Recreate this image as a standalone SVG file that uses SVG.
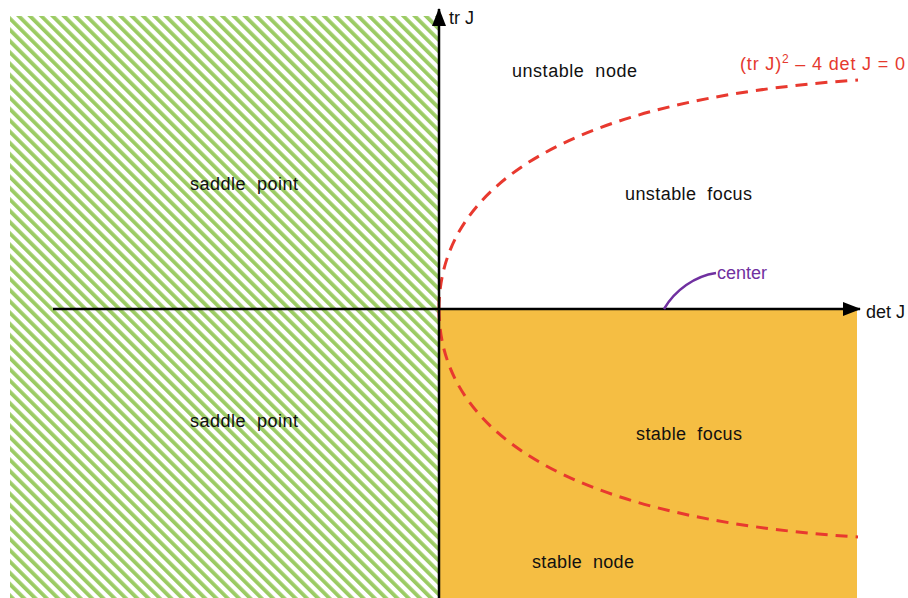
<svg xmlns="http://www.w3.org/2000/svg" width="908" height="598" viewBox="0 0 908 598">
<defs>
<pattern id="hatch" patternUnits="userSpaceOnUse" width="8" height="8" patternTransform="rotate(-45)">
<rect x="0" y="0" width="3.8" height="8" fill="#9BCB63"/>
</pattern>
<marker id="arr" viewBox="0 0 18 14" refX="17" refY="7" markerWidth="18" markerHeight="14" markerUnits="userSpaceOnUse" orient="auto">
<path d="M0,0 L18,7 L0,14 Z" fill="#000"/>
</marker>
<style>
.lbl{font-family:"Liberation Sans",Arial,sans-serif;font-size:18px;fill:#111}
.red{fill:#E5392E}
.pur{fill:#7030A0}
.dash{fill:none;stroke:#E8392F;stroke-width:3;stroke-dasharray:12 8}
.axis{stroke:#000;stroke-width:2.5;fill:none}
</style>
</defs>
<rect width="908" height="598" fill="#fff"/>
<g id="saddle-region">
<rect x="10" y="16" width="429" height="582" fill="url(#hatch)"/>
</g>
<g id="stable-region">
<rect x="439" y="309" width="418" height="289" fill="#F5BE43"/>
</g>
<g id="connectors">
<path class="dash" d="M439,309 C439,190 560,100 858,80"/>
<path class="dash" d="M439,309 C439,428 560,518 858,537"/>
<line class="axis" x1="439" y1="598" x2="439" y2="9" marker-end="url(#arr)"/>
<line class="axis" x1="53" y1="309" x2="860" y2="309" marker-end="url(#arr)"/>
<path d="M664,309 C675,290 695,276 716,273" fill="none" stroke="#7030A0" stroke-width="2.5"/>
</g>
<g id="labels">
<text class="lbl" x="449" y="24">tr J</text>
<text class="lbl" x="866" y="318">det J</text>
<text class="lbl" x="512" y="77" textLength="125" lengthAdjust="spacing" xml:space="preserve">unstable  node</text>
<text class="lbl red" x="740" y="70" textLength="165" lengthAdjust="spacing">(tr J)<tspan dy="-7" font-size="12">2</tspan><tspan dy="7"> – 4 det J = 0</tspan></text>
<text class="lbl" x="190" y="190" textLength="108" lengthAdjust="spacing" xml:space="preserve">saddle  point</text>
<text class="lbl" x="190" y="427" textLength="108" lengthAdjust="spacing" xml:space="preserve">saddle  point</text>
<text class="lbl" x="625" y="200" textLength="127" lengthAdjust="spacing" xml:space="preserve">unstable  focus</text>
<text class="lbl pur" x="717" y="279">center</text>
<text class="lbl" x="636" y="440" textLength="106" lengthAdjust="spacing" xml:space="preserve">stable  focus</text>
<text class="lbl" x="532" y="568" textLength="102" lengthAdjust="spacing" xml:space="preserve">stable  node</text>
</g>
</svg>
